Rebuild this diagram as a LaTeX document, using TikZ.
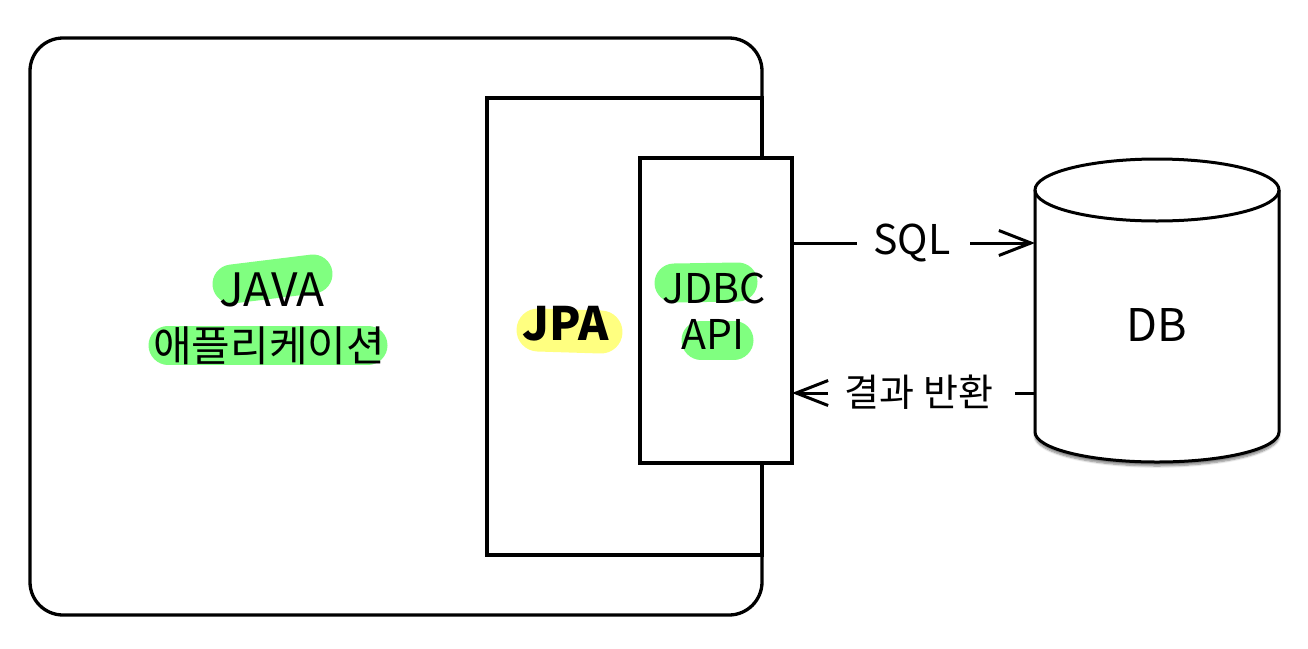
\documentclass[tikz,border=0pt]{standalone}
\usepackage{fontspec}
\setmainfont{Noto Sans CJK KR}
\usetikzlibrary{arrows.meta,shadows.blur}
\definecolor{hlgreen}{RGB}{128,255,128}
\definecolor{hlyellow}{RGB}{255,255,128}
\tikzset{
  box/.style={draw, line width=3.3pt, fill=white, inner sep=0pt, outer sep=0pt},
  lbl/.style={inner sep=0pt, text=black},
  hlg/.style={draw=hlgreen, line width=39pt, line cap=round},
  hly/.style={draw=hlyellow, line width=43pt, line cap=round},
  conn/.style={line width=3pt},
  arr/.style={conn, -{Straight Barb[length=32pt, width=25pt, line width=3pt]}},
  big/.style={lbl, font=\fontsize{46}{52}\selectfont},
  mid/.style={lbl, font=\fontsize{41}{47}\selectfont},
}
\begin{document}
\begin{tikzpicture}[x=1pt, y=-1pt]
\useasboundingbox (0,0) rectangle (1308,648);
% application box
\node[box, rounded corners=33pt, minimum width=732pt, minimum height=577pt, anchor=north west] (app) at (30,38) {};
% JPA box
\node[box, minimum width=275pt, minimum height=457pt, anchor=north west] (jpa) at (487,98) {};
% JDBC box
\node[box, minimum width=152pt, minimum height=305pt, anchor=north west] (jdbc) at (640,158) {};
% highlights
\draw[hlg] (232,284) -- (313,274);
\draw[hlg] (168,345) -- (368,345);
\draw[hly] (538,330) -- (601,332);
\draw[hlg] (674,283) -- (738,282);
\draw[hlg] (701,340) -- (734,340);
% labels
\node[big] (javal) at (272,290) {JAVA};
\node[lbl, font=\fontsize{42}{48}\selectfont] (appl) at (269,346) {애플리케이션};
\node[lbl, font=\fontsize{46}{52}\selectfont\bfseries] (jpal) at (566,324) {JPA};
\node[mid] (jdbcl) at (714,288) {JDBC};
\node[mid] (apil) at (713,334) {API};
% database cylinder
\path[fill=white, blur shadow={shadow xshift=0pt, shadow yshift=-4pt, shadow blur steps=6, shadow opacity=50}]
  (1035,190) -- (1035,432) arc[start angle=180, end angle=360, x radius=122pt, y radius=30pt]
  -- (1279,190) arc[start angle=0, end angle=180, x radius=122pt, y radius=31pt] -- cycle;
\draw[line width=3pt]
  (1035,190) -- (1035,432) arc[start angle=180, end angle=360, x radius=122pt, y radius=30pt]
  -- (1279,190);
\draw[line width=3pt] (1157,190) ellipse[x radius=122pt, y radius=31pt];
\node[lbl, font=\fontsize{45}{51}\selectfont] (db) at (1157,325) {DB};
\coordinate (dbsql) at (1035,243);
\coordinate (dbret) at (1035,393);
% SQL connector
\node[mid] (sql) at (912,243) {SQL};
\coordinate (sqlA) at (857,243);
\coordinate (sqlB) at (970,243);
\draw[conn] (jdbc.east |- sqlA) -- (sqlA);
\draw[arr] (sqlB) -- (dbsql);
% result connector
\node[lbl, font=\fontsize{38}{44}\selectfont] (ret) at (919,392) {결과 반환};
\coordinate (retA) at (1015,393);
\coordinate (retB) at (828,393);
\draw[conn] (dbret) -- (retA);
\draw[arr] (retB) -- (jdbc.east |- retB);
\end{tikzpicture}
\end{document}
